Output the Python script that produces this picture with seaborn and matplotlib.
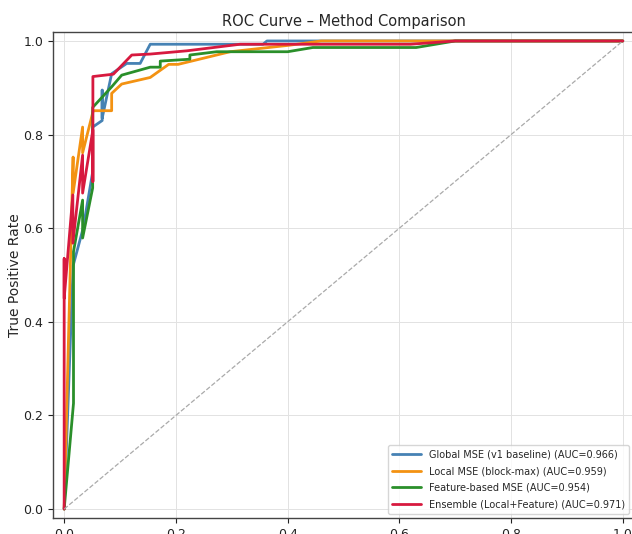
import numpy as np
import pandas as pd
import matplotlib
matplotlib.use("Agg")
import matplotlib.pyplot as plt
import seaborn as sns

# ---- data ----
labels = [
    "Global MSE (v1 baseline) (AUC=0.966)",
    "Local MSE (block-max) (AUC=0.959)",
    "Feature-based MSE (AUC=0.954)",
    "Ensemble (Local+Feature) (AUC=0.971)",
]
colors = ["#4682B4", "#F39212", "#2A8F2A", "#D7193F"]

global_fpr = [0.0, 0.016, 0.034, 0.051, 0.051, 0.068, 0.068, 0.068, 0.085, 0.112, 0.136, 0.154, 0.356, 0.363, 1.0]
global_tpr = [0.0, 0.52, 0.60, 0.72, 0.816, 0.83, 0.895, 0.835, 0.93, 0.952, 0.952, 0.993, 0.993, 1.0, 1.0]

local_fpr = [0.0, 0.016, 0.016, 0.033, 0.033, 0.052, 0.085, 0.085, 0.103, 0.154, 0.187, 0.204, 0.297, 0.404, 0.46, 1.0]
local_tpr = [0.0, 0.752, 0.675, 0.816, 0.761, 0.851, 0.851, 0.888, 0.908, 0.922, 0.95, 0.95, 0.977, 0.991, 1.0, 1.0]

feat_fpr = [0.0, 0.0167, 0.0167, 0.033, 0.033, 0.051, 0.051, 0.085, 0.103, 0.136, 0.154, 0.172, 0.172, 0.225, 0.225, 0.273, 0.40, 0.445, 0.63, 0.70, 1.0]
feat_tpr = [0.0, 0.226, 0.55, 0.66, 0.579, 0.686, 0.858, 0.902, 0.927, 0.938, 0.944, 0.944, 0.957, 0.961, 0.970, 0.977, 0.977, 0.986, 0.986, 1.0, 1.0]

ens_fpr = [0.0, 0.0, 0.0, 0.0155, 0.0155, 0.033, 0.033, 0.0514, 0.0514, 0.0514, 0.088, 0.121, 0.154, 0.22, 0.315, 0.62, 0.70, 1.0]
ens_tpr = [0.0, 0.535, 0.45, 0.671, 0.568, 0.756, 0.675, 0.81, 0.70, 0.924, 0.929, 0.970, 0.972, 0.979, 0.993, 0.993, 1.0, 1.0]

title = "ROC Curve \u2013 Method Comparison"
ylabel = "True Positive Rate"
ticks = [0.0, 0.2, 0.4, 0.6, 0.8, 1.0]

# ---- figure ----
sns.set_style("ticks")
plt.rcParams["font.family"] = ["DejaVu Sans"]

fig = plt.figure(figsize=(6.32, 5.34), dpi=100)
ax = fig.add_axes([53 / 632, 1 - 518.4 / 534, 581 / 632, 486.8 / 534])

curves = [(global_fpr, global_tpr), (local_fpr, local_tpr), (feat_fpr, feat_tpr), (ens_fpr, ens_tpr)]
for (fx, fy), lab, col in zip(curves, labels, colors):
    df = pd.DataFrame({"fpr": fx, "tpr": fy})
    sns.lineplot(data=df, x="fpr", y="tpr", sort=False, estimator=None,
                 color=col, linewidth=2.0, label=lab, ax=ax)

ax.plot([0, 1], [0, 1], linestyle="--", color="#aaaaaa", linewidth=0.9)

ax.set_xlim(-0.02, 1.02)
ax.set_ylim(-0.02, 1.02)
ax.set_xticks(ticks)
ax.set_yticks(ticks)
ax.tick_params(labelsize=9, colors="#222222", length=3.5)
ax.grid(True, color="#e2e2e2", linewidth=0.7)
for s in ax.spines.values():
    s.set_color("#444444")
    s.set_linewidth(1.0)
ax.set_xlabel("")
ax.set_ylabel(ylabel, fontsize=10, labelpad=1)
ax.set_title(title, fontsize=10.5, pad=4)
ax.legend(loc="lower right", fontsize=7.0, frameon=True, borderaxespad=0.5,
          handlelength=3.0, labelspacing=0.7, bbox_to_anchor=(1.0, 0.0))

fig.savefig("out.png", dpi=100)
